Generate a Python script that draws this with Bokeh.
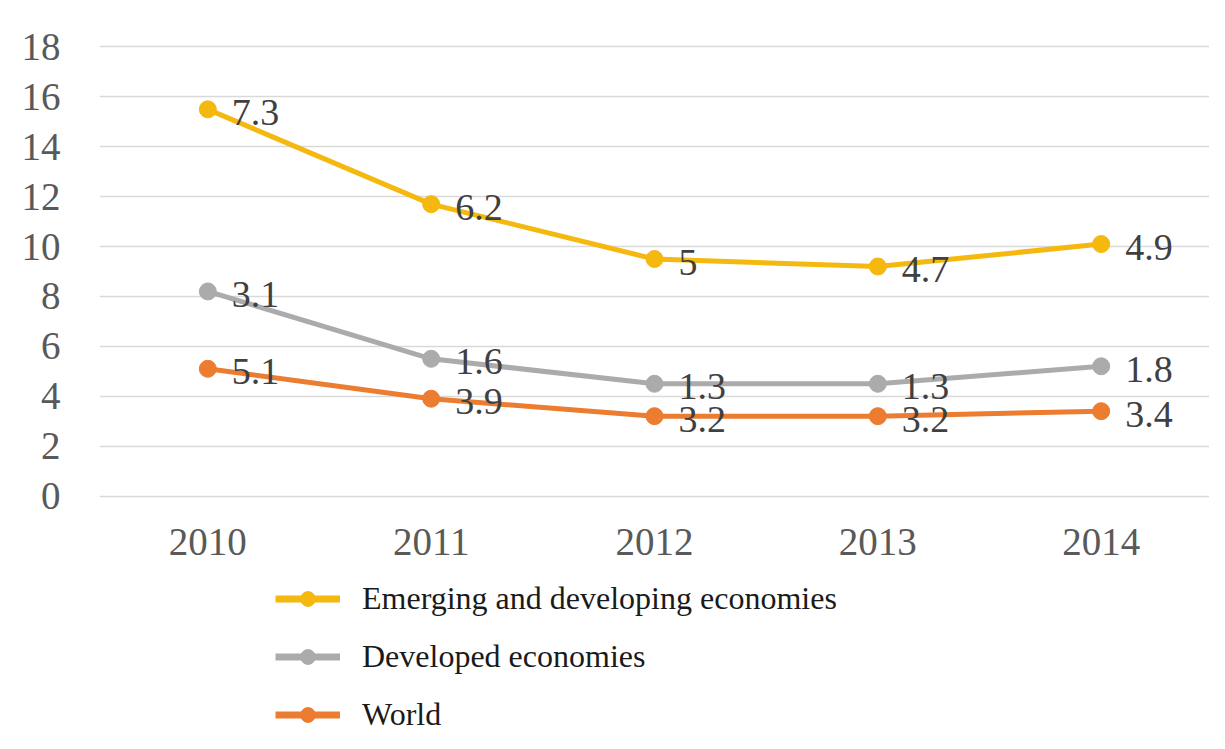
from bokeh.plotting import figure
from bokeh.layouts import column
from bokeh.models import ColumnDataSource, FixedTicker, Legend, LegendItem, Range1d, FactorRange
from bokeh.core.properties import value
from bokeh.embed import file_html
from bokeh.resources import INLINE

years = ["2010", "2011", "2012", "2013", "2014"]
world = [5.1, 3.9, 3.2, 3.2, 3.4]
developed = [3.1, 1.6, 1.3, 1.3, 1.8]
emerging = [7.3, 6.2, 5.0, 4.7, 4.9]
series_names = ["Emerging and developing economies", "Developed economies", "World"]
y_ticks = [0, 2, 4, 6, 8, 10, 12, 14, 16, 18]

FONT = "'Liberation Serif', 'Times New Roman', serif"
C_EM = "#F4B80E"
C_DEV = "#ABABAB"
C_WORLD = "#EC7C30"

world_top = list(world)
dev_top = [a + b for a, b in zip(world_top, developed)]
em_top = [a + b for a, b in zip(dev_top, emerging)]

def fmt(v):
    return f"{v:g}"

W = 1209
H_MAIN = 562
H_LEG = 171
LEFT = 99

p = figure(x_range=FactorRange(factors=years, range_padding=-0.015, range_padding_units="absolute"),
           y_range=Range1d(-0.1, 18.1),
           width=W, height=H_MAIN,
           min_border_left=LEFT, min_border_right=0, min_border_top=44, min_border_bottom=H_MAIN - 44 - 454,
           output_backend="svg", toolbar_location=None)
p.outline_line_color = None
p.background_fill_color = "white"
p.border_fill_color = "white"

p.xgrid.grid_line_color = None
p.ygrid.grid_line_color = "#D9D9D9"
p.ygrid.grid_line_width = 1.5
p.yaxis.ticker = FixedTicker(ticks=y_ticks)

for ax in (p.xaxis, p.yaxis):
    ax.axis_line_color = None
    ax.major_tick_line_color = None
    ax.minor_tick_line_color = None
    ax.major_label_text_font = FONT
    ax.major_label_text_font_size = "39px"
    ax.major_label_text_color = "#595959"
p.yaxis.major_label_standoff = 33
p.xaxis.major_label_standoff = 24

styles = [(series_names[2], world, world_top, C_WORLD),
          (series_names[1], developed, dev_top, C_DEV),
          (series_names[0], emerging, em_top, C_EM)]

for name, vals, tops, col in styles:
    src = ColumnDataSource(dict(x=years, y=tops, lab=[fmt(v) for v in vals]))
    p.line("x", "y", source=src, line_color=col, line_width=5)
    p.scatter("x", "y", source=src, size=17, fill_color=col, line_color=col)
    p.text("x", "y", text="lab", source=src, x_offset=24, y_offset=3,
           text_font=value(FONT), text_font_size="38px", text_color="#404040",
           text_baseline="middle", text_align="left")

# legend panel below the chart
q = figure(width=W, height=H_LEG, x_range=Range1d(0, 1), y_range=Range1d(0, 1),
           x_axis_type=None, y_axis_type=None,
           min_border_left=0, min_border_right=0, min_border_top=0, min_border_bottom=0,
           output_backend="svg", toolbar_location=None)
q.outline_line_color = None
q.grid.grid_line_color = None
q.border_fill_color = "white"
q.background_fill_color = "white"

items = []
for name, vals, tops, col in styles[::-1]:
    off = ColumnDataSource(dict(x=[-5, -4], y=[-5, -4]))
    ln = q.line("x", "y", source=off, line_color=col, line_width=7)
    sc = q.scatter("x", "y", source=off, size=16, fill_color=col, line_color=col)
    items.append(LegendItem(label=name, renderers=[ln, sc]))

legend = Legend(items=items, orientation="vertical", location=(275 - LEFT, 0),
                glyph_width=65, glyph_height=37, label_height=37, spacing=21,
                label_standoff=22, padding=0, margin=0,
                label_text_font=FONT, label_text_font_size="32px",
                label_text_color="#1A1A1A", border_line_color=None,
                background_fill_alpha=0)
q.add_layout(legend, "center")

layout = column(p, q, spacing=0)
open("out.html", "w").write(file_html(layout, INLINE))
